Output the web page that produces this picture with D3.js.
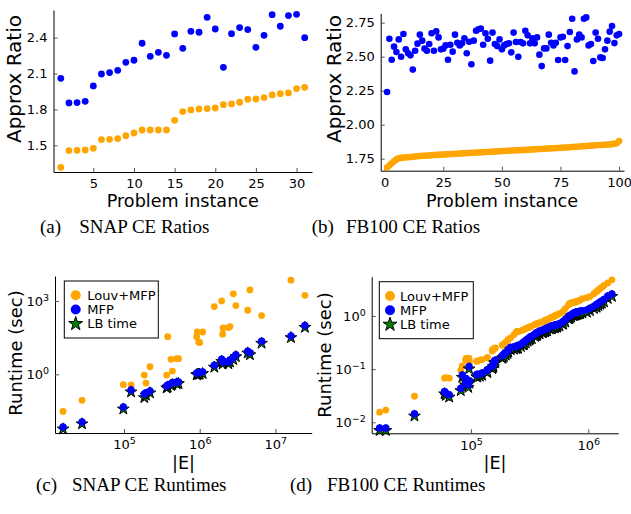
<!DOCTYPE html>
<html>
<head>
<meta charset="utf-8">
<script src="https://cdnjs.cloudflare.com/ajax/libs/d3/7.8.5/d3.min.js"></script>
<style>
body { margin: 0; background: #fff; }
svg text { font-family: "DejaVu Sans", sans-serif; fill: #000; }
.tick text { font-size: 13px; font-family: "DejaVu Sans", sans-serif; }
.label { font-size: 17.6px; }
.legend text { font-size: 13px; }
.caption { font-family: "Liberation Serif", "Times New Roman", serif !important; font-size: 19px; }
</style>
</head>
<body>
<svg width="631" height="514"></svg>
<script>
// (a) SNAP CE ratios, problem instance 1..31
var snapRatioLouv = [1.316, 1.456, 1.458, 1.461, 1.475, 1.548, 1.550, 1.556, 1.581, 1.603, 1.628, 1.628, 1.628, 1.628, 1.709, 1.782,
    1.796, 1.804, 1.807, 1.812, 1.840, 1.846, 1.860, 1.885, 1.887, 1.899, 1.921, 1.932, 1.938, 1.974, 1.985];
var snapRatioMfp = [2.060, 1.854, 1.857, 1.868, 1.996, 2.096, 2.108, 2.127, 2.194, 2.211, 2.353, 2.244, 2.277, 2.252, 2.431, 2.311,
    2.453, 2.445, 2.570, 2.472, 2.152, 2.433, 2.484, 2.467, 2.319, 2.419, 2.592, 2.495, 2.584, 2.595, 2.400];

// (b) FB100 CE ratios, problem instance 1..100
var fbRatioLouv = [1.685, 1.700, 1.716, 1.731, 1.745, 1.753, 1.756, 1.758, 1.760, 1.761, 1.762, 1.764, 1.766, 1.768, 1.770, 1.771,
    1.772, 1.773, 1.774, 1.776, 1.777, 1.778, 1.779, 1.780, 1.781, 1.782, 1.783, 1.784, 1.785, 1.786, 1.787, 1.788, 1.789, 1.790,
    1.791, 1.792, 1.793, 1.794, 1.795, 1.796, 1.797, 1.798, 1.799, 1.800, 1.801, 1.802, 1.803, 1.804, 1.805, 1.806, 1.807, 1.808,
    1.809, 1.810, 1.811, 1.812, 1.812, 1.813, 1.814, 1.815, 1.816, 1.817, 1.818, 1.819, 1.820, 1.821, 1.822, 1.823, 1.824, 1.825,
    1.826, 1.827, 1.828, 1.829, 1.830, 1.831, 1.832, 1.833, 1.834, 1.836, 1.837, 1.838, 1.840, 1.841, 1.842, 1.843, 1.845, 1.846,
    1.847, 1.849, 1.850, 1.851, 1.852, 1.853, 1.854, 1.855, 1.857, 1.860, 1.864, 1.880];
var fbRatioMfp = [2.240, 2.632, 2.478, 2.574, 2.534, 2.627, 2.500, 2.667, 2.554, 2.525, 2.510, 2.405, 2.544, 2.596, 2.662, 2.618,
    2.559, 2.544, 2.593, 2.672, 2.544, 2.686, 2.642, 2.554, 2.559, 2.583, 2.478, 2.588, 2.537, 2.662, 2.603, 2.583, 2.598, 2.635,
    2.525, 2.610, 2.444, 2.618, 2.691, 2.701, 2.706, 2.588, 2.672, 2.632, 2.471, 2.677, 2.593, 2.578, 2.627, 2.554, 2.583, 2.593,
    2.598, 2.532, 2.677, 2.608, 2.500, 2.608, 2.598, 2.691, 2.657, 2.598, 2.635, 2.598, 2.642, 2.515, 2.431, 2.561, 2.561, 2.662,
    2.603, 2.583, 2.603, 2.476, 2.642, 2.647, 2.476, 2.578, 2.681, 2.779, 2.392, 2.627, 2.662, 2.642, 2.779, 2.789, 2.583, 2.593,
    2.468, 2.677, 2.632, 2.495, 2.490, 2.554, 2.618, 2.684, 2.725, 2.600, 2.657, 2.667];

// (c) SNAP CE runtimes (seconds) against |E|
var snapEdges = [15634, 27861, 97949, 123880, 185350, 194980, 220290, 366440, 377570, 417830, 435510, 496590, 524800, 912010,
    928970, 968280, 1000000, 1094000, 1559600, 1949800, 2009000, 2041700, 2387800, 2511900, 2779700, 3006100, 4305300, 4613200,
    6576600, 16069000, 24604000];
var snapLouv = [0.0303, 0.0863, 0.376, 0.365, 0.933, 0.44, 2.04, 0.933, 34.7, 4.11, 1.36, 4.37, 4.37, 34.7, 53.7, 20.9, 20.0,
    53.7, 589, 1000, 43.7, 79, 81.3, 89.1, 1950, 646, 417, 2818, 251, 7079, 1698];
var snapMfp = [0.00697, 0.0112, 0.0459, 0.2275, 0.158, 0.178, 0.209, 0.331, 0.363, 0.417, 0.457, 0.484, 0.49, 1.12, 1.16, 1.17,
    1.2, 1.26, 2.34, 4.11, 3.18, 3.55, 3.18, 3.85, 4.79, 6.31, 8.91, 7.67, 22.4, 37.2, 100];
var snapLb = [0.0058, 0.0094, 0.038, 0.19, 0.111, 0.141, 0.174, 0.275, 0.302, 0.347, 0.38, 0.407, 0.417, 0.955, 0.977, 1.0,
    1.02, 1.07, 1.95, 3.39, 2.63, 2.9, 2.69, 3.16, 3.98, 5.25, 7.41, 6.31, 18.6, 31.6, 83.2];

// (d) FB100 CE runtimes (seconds) against |E|
var fbEdges = [16651, 18812, 32988, 59589, 61050, 65252, 81903, 84387, 89912, 90954, 94899, 96394, 97133, 111996, 112986,
    119161, 124610, 137561, 138034, 151747, 152003, 155043, 155332, 158864, 161403, 184828, 186586, 191221, 198347, 204850,
    208103, 217662, 233000, 243247, 249722, 249967, 251252, 266378, 279186, 283918, 293320, 304076, 314989, 321214, 330008,
    351358, 360797, 362894, 367541, 381919, 384526, 405450, 412000, 425638, 427831, 428989, 442174, 443221, 444333, 469528,
    482215, 485564, 486967, 488337, 506437, 519385, 522146, 541336, 543975, 568330, 604867, 610911, 637528, 679817, 686501,
    698178, 715715, 744862, 747604, 766800, 770658, 784602, 789321, 790777, 801853, 824617, 835952, 852444, 892528, 973918,
    1034804, 1118767, 1174057, 1176516, 1219650, 1264421, 1305757, 1362220, 1465660, 1590655];
var fbLouv = [0.0155, 0.0170, 0.0309, 0.0676, 0.0692, 0.0676, 0.0955, 0.1148, 0.1479, 0.1585, 0.1585, 0.1585, 0.138,
    0.1413, 0.1413, 0.1479, 0.1514, 0.1622, 0.1660, 0.2291, 0.2188, 0.2344, 0.2399, 0.2455, 0.2512, 0.2818, 0.2884, 0.3020,
    0.3236, 0.3467, 0.3631, 0.3890, 0.4467, 0.5012, 0.5129, 0.5129, 0.5129, 0.5248, 0.5495, 0.5559, 0.5754, 0.6026, 0.6166,
    0.6310, 0.6457, 0.6918, 0.7079, 0.7079, 0.7161, 0.7413, 0.7413, 0.7762, 0.7762, 0.8128, 0.8128, 0.8128, 0.8414, 0.8414,
    0.8511, 0.9016, 0.9333, 0.9333, 0.9441, 0.9441, 0.9772, 1.000, 1.012, 1.047, 1.059, 1.109, 1.189, 1.202, 1.380, 1.622,
    1.660, 1.738, 1.758, 1.799, 1.799, 1.820, 1.820, 1.841, 1.862, 1.862, 1.884, 1.928, 1.950, 1.995, 2.113, 2.213, 2.317,
    2.630, 2.884, 2.884, 3.090, 3.273, 3.467, 3.758, 4.169, 4.786];
var fbMfp = [0.0078, 0.0078, 0.0145, 0.0380, 0.0355, 0.0331, 0.0437, 0.0776, 0.0562, 0.0661, 0.0501, 0.1122, 0.0603,
    0.0794, 0.0794, 0.0813, 0.0851, 0.0955, 0.0977, 0.1148, 0.1148, 0.1202, 0.1259, 0.1445, 0.1479, 0.1778, 0.1820, 0.1905,
    0.2042, 0.2188, 0.2344, 0.2570, 0.2630, 0.2692, 0.2754, 0.2754, 0.2786, 0.2951, 0.3162, 0.3236, 0.3467, 0.3715, 0.3890,
    0.4074, 0.4169, 0.4571, 0.4786, 0.4786, 0.4898, 0.5129, 0.5188, 0.5370, 0.5433, 0.5623, 0.5623, 0.5623, 0.5888, 0.5888,
    0.5888, 0.6310, 0.6383, 0.6457, 0.6457, 0.6457, 0.6607, 0.6683, 0.6761, 0.6839, 0.6918, 0.7161, 0.7762, 0.7852, 0.8511,
    0.9772, 1.000, 1.023, 1.059, 1.122, 1.122, 1.148, 1.148, 1.175, 1.175, 1.175, 1.189, 1.202, 1.216, 1.230, 1.259, 1.303,
    1.396, 1.531, 1.622, 1.641, 1.738, 1.841, 1.928, 2.042, 2.371, 2.594];
var fbLb = [0.0070, 0.0070, 0.0131, 0.0343, 0.0320, 0.0298, 0.0394, 0.0700, 0.0506, 0.0596, 0.0452, 0.1010, 0.0543,
    0.0715, 0.0715, 0.0732, 0.0766, 0.0860, 0.0879, 0.1033, 0.1033, 0.1082, 0.1133, 0.1301, 0.1331, 0.1600, 0.1638, 0.1715,
    0.1838, 0.1969, 0.2110, 0.2313, 0.2367, 0.2423, 0.2479, 0.2479, 0.2507, 0.2656, 0.2846, 0.2912, 0.3120, 0.3344, 0.3501,
    0.3667, 0.3752, 0.4114, 0.4307, 0.4307, 0.4408, 0.4616, 0.4669, 0.4833, 0.4890, 0.5061, 0.5061, 0.5061, 0.5299, 0.5299,
    0.5299, 0.5679, 0.5745, 0.5811, 0.5811, 0.5811, 0.5946, 0.6015, 0.6085, 0.6155, 0.6226, 0.6445, 0.6986, 0.7067, 0.7660,
    0.8795, 0.9000, 0.9207, 0.9531, 1.010, 1.010, 1.033, 1.033, 1.058, 1.058, 1.058, 1.070, 1.082, 1.094, 1.107, 1.133, 1.173,
    1.256, 1.378, 1.460, 1.477, 1.564, 1.657, 1.735, 1.838, 2.134, 2.335];

var legendLabels = ["Louv+MFP", "MFP", "LB time"];
var captions = [["(a)", "SNAP CE Ratios"], ["(b)", "FB100 CE Ratios"], ["(c)", "SNAP CE Runtimes"], ["(d)", "FB100 CE Runtimes"]];

var ORANGE = "#ffa500", BLUE = "#0000ff", GREEN = "#008000";
var svg = d3.select("svg");
var star = d3.symbol().type(d3.symbolStar);

function axes(x, y, xTicks, yTicks, xFormat, yFormat) {
    let x0 = d3.min(x.range()), y0 = d3.max(y.range());
    let gx = svg.append("g")
        .attr("transform", "translate(0," + y0 + ")")
        .call(d3.axisBottom(x).tickValues(xTicks).tickFormat(xFormat)
            .tickSizeInner(-4).tickSizeOuter(0).tickPadding(7));
    let gy = svg.append("g")
        .attr("transform", "translate(" + x0 + ",0)")
        .call(d3.axisLeft(y).tickValues(yTicks).tickFormat(yFormat)
            .tickSizeInner(-4).tickSizeOuter(0).tickPadding(6));
    [gx, gy].forEach((g) => {
        g.attr("font-family", null).attr("font-size", null);
        g.select(".domain").attr("stroke", "#000");
        g.selectAll(".tick line").attr("stroke", "#555");
    });
    return [gx, gy];
}

// 10^k labels for the log axes
function powerLabels(g) {
    g.selectAll(".tick text").each(function(d) {
        let e = Math.round(Math.log10(d));
        let t = d3.select(this).text("10");
        t.append("tspan")
            .attr("dy", "-0.5em")
            .style("font-size", "9.5px")
            .text(e < 0 ? "\u2212" + (-e) : e);
    });
}

function axisLabels(xText, xx, xy, yText, yx, yy, ySize) {
    svg.append("text").attr("class", "label")
        .attr("x", xx).attr("y", xy)
        .attr("text-anchor", "middle")
        .text(xText);
    svg.append("text").attr("class", "label")
        .attr("transform", "translate(" + yx + "," + yy + ") rotate(-90)")
        .attr("text-anchor", "middle")
        .style("font-size", ySize + "px")
        .text(yText);
}

function dots(values, xs, x, y, r, color) {
    svg.append("g")
        .selectAll("circle")
        .data(values)
        .join("circle")
        .attr("cx", (d, i) => x(xs ? xs[i] : i + 1))
        .attr("cy", (d) => y(d))
        .attr("r", r)
        .attr("fill", color);
}

function stars(values, xs, x, y) {
    svg.append("g")
        .selectAll("path")
        .data(values)
        .join("path")
        .attr("d", star.size(42)())
        .attr("transform", (d, i) => "translate(" + x(xs[i]) + "," + y(d) + ")")
        .attr("fill", GREEN)
        .attr("stroke", "#000")
        .attr("stroke-width", 1);
}

function legend(lx, ly, w, h, mx, tx) {
    let g = svg.append("g").attr("class", "legend").attr("transform", "translate(" + lx + "," + ly + ")");
    g.append("rect").attr("width", w).attr("height", h)
        .attr("fill", "#fff").attr("stroke", "#000").attr("stroke-width", 1);
    let rows = [14.3, 28.5, 42.8];
    g.append("circle").attr("cx", mx).attr("cy", rows[0]).attr("r", 5).attr("fill", ORANGE);
    g.append("circle").attr("cx", mx).attr("cy", rows[1]).attr("r", 5).attr("fill", BLUE);
    g.append("path").attr("d", star.size(60)())
        .attr("transform", "translate(" + mx + "," + rows[2] + ")")
        .attr("fill", GREEN).attr("stroke", "#000").attr("stroke-width", 1);
    legendLabels.forEach((label, i) => {
        g.append("text").attr("x", tx).attr("y", rows[i]).attr("dy", "0.36em").text(label);
    });
}

// (a)
var xa = d3.scaleLinear().domain([0.1, 31.9]).range([53.5, 312]);
var ya = d3.scaleLinear().domain([1.277, 2.631]).range([172, 10]);
axes(xa, ya, [5, 10, 15, 20, 25, 30], [1.5, 1.8, 2.1, 2.4], d3.format("d"), d3.format(".1f"));
dots(snapRatioMfp, null, xa, ya, 3.4, BLUE);
dots(snapRatioLouv, null, xa, ya, 3.4, ORANGE);
axisLabels("Problem instance", 182.75, 207, "Approx Ratio", 21, 79, 20);

// (b)
var xb = d3.scaleLinear().domain([-1.7, 102.1]).range([380.7, 624]);
var yb = d3.scaleLinear().domain([1.662, 2.819]).range([170.7, 13.3]);
axes(xb, yb, [0, 25, 50, 75, 100], [1.75, 2.0, 2.25, 2.5, 2.75], d3.format("d"), d3.format(".2f"));
dots(fbRatioMfp, null, xb, yb, 3.3, BLUE);
dots(fbRatioLouv, null, xb, yb, 3.3, ORANGE);
axisLabels("Problem instance", 502, 207, "Approx Ratio", 341, 79, 20);

// (c)
var xc = d3.scaleLog().domain([Math.pow(10, 4.088), Math.pow(10, 7.48)]).range([55, 311.7]);
var yc = d3.scaleLog().domain([Math.pow(10, -2.4), Math.pow(10, 4.02)]).range([433, 276]);
var axc = axes(xc, yc, [1e5, 1e6, 1e7], [1, 1000], null, null);
powerLabels(axc[0]); powerLabels(axc[1]);
dots(snapLouv, snapEdges, xc, yc, 3.4, ORANGE);
stars(snapLb, snapEdges, xc, yc);
dots(snapMfp, snapEdges, xc, yc, 3.7, BLUE);
legend(64.3, 281, 94, 57, 11.4, 23);
axisLabels("|E|", 183.5, 469, "Runtime (sec)", 22, 353, 18);

// (d)
var xd = d3.scaleLog().domain([Math.pow(10, 4.154), Math.pow(10, 6.256)]).range([371.7, 618.3]);
var yd = d3.scaleLog().domain([Math.pow(10, -2.207), Math.pow(10, 0.739)]).range([433.3, 276.7]);
var axd = axes(xd, yd, [1e5, 1e6], [0.01, 0.1, 1], null, null);
powerLabels(axd[0]); powerLabels(axd[1]);
dots(fbLouv, fbEdges, xd, yd, 3.4, ORANGE);
stars(fbLb, fbEdges, xd, yd);
dots(fbMfp, fbEdges, xd, yd, 3.7, BLUE);
legend(379.3, 281.7, 94, 57, 10.7, 20.7);
axisLabels("|E|", 495, 469, "Runtime (sec)", 331, 355, 18);

// sub-figure captions
var capPos = [[40, 79.3, 232.5], [311.7, 346, 232.5], [36, 72, 491], [290, 327, 491]];
captions.forEach((c, i) => {
    svg.append("text").attr("class", "caption").attr("x", capPos[i][0]).attr("y", capPos[i][2]).text(c[0]);
    svg.append("text").attr("class", "caption").attr("x", capPos[i][1]).attr("y", capPos[i][2]).text(c[1]);
});
</script>
</body>
</html>
